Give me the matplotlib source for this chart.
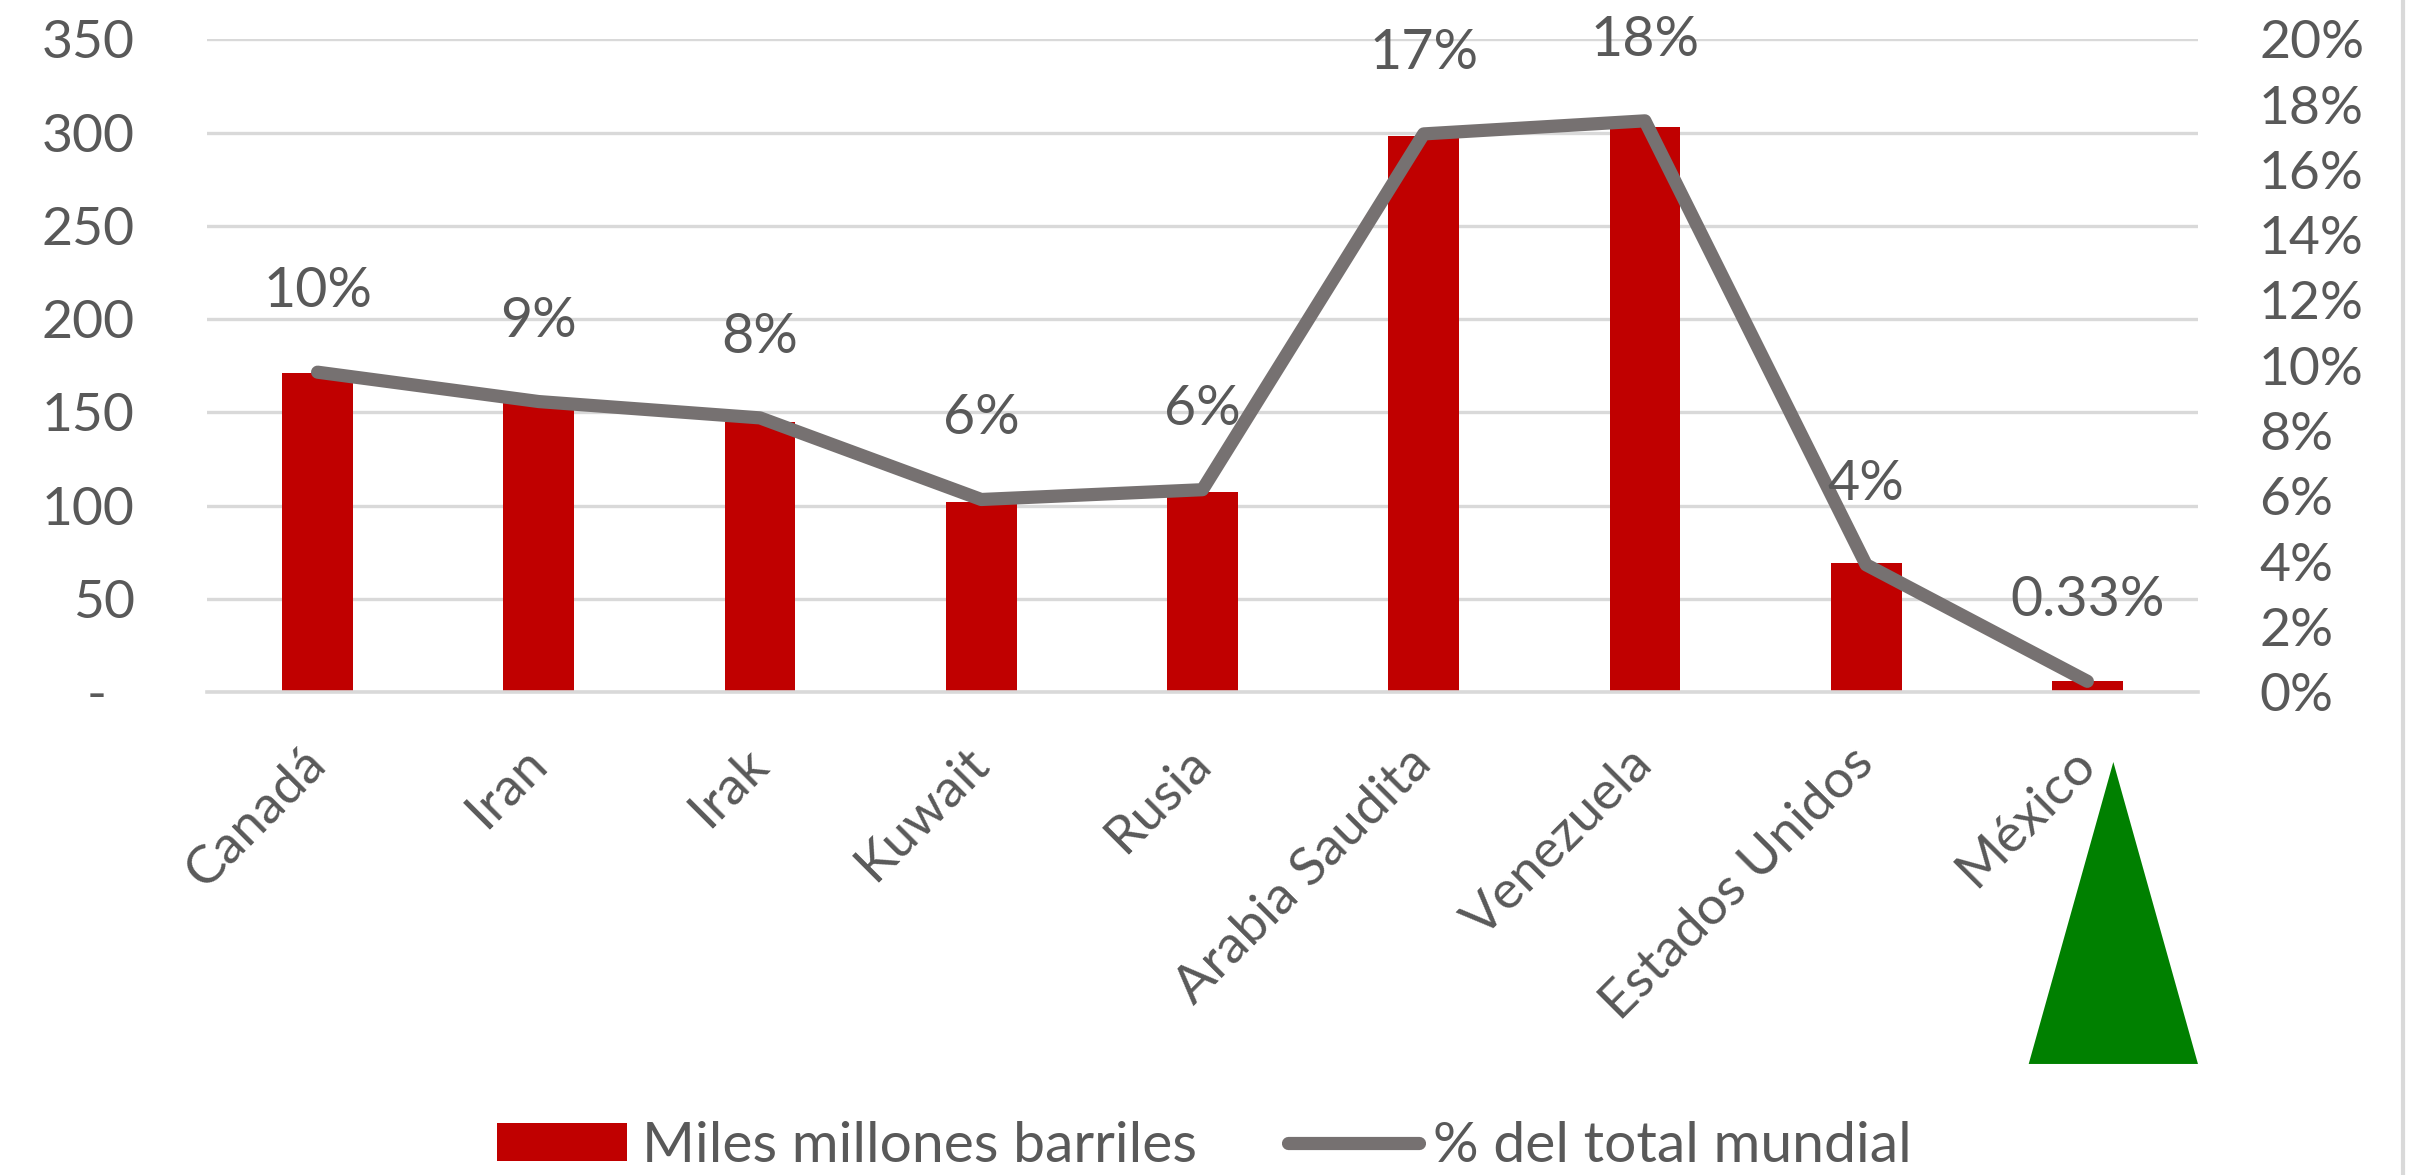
import matplotlib
matplotlib.use("Agg")
import matplotlib.pyplot as plt
from matplotlib.patches import Polygon
from matplotlib.lines import Line2D
from matplotlib.ticker import FuncFormatter, MultipleLocator
import numpy as np

# ---- data ----
countries = ["Canadá", "Iran", "Irak", "Kuwait", "Rusia", "Arabia Saudita",
             "Venezuela", "Estados Unidos", "México"]
reserves = [171, 156, 145, 102, 107, 298, 303, 69, 6]          # miles de millones de barriles
share = [0.098, 0.089, 0.084, 0.059, 0.062, 0.171, 0.175, 0.039, 0.0033]
share_labels = ["10%", "9%", "8%", "6%", "6%", "17%", "18%", "4%", "0.33%"]
left_ticks = [0, 50, 100, 150, 200, 250, 300, 350]
bar_name = "Miles millones barriles"
line_name = "% del total mundial"

plt.rcParams['font.family'] = ['Lato', 'DejaVu Sans']
TXT = "#595959"
FS = 38.5
FS_LAB = 40
FS_LEG = 41

fig = plt.figure(figsize=(24.18, 11.75), dpi=100)
ax = fig.add_axes([0.0856, 0.411, 0.8234, 0.5556])
ax2 = ax.twinx()

x = np.arange(len(countries))
bars = ax.bar(x, reserves, width=0.32, color="#c00000", zorder=2, label=bar_name)
ax.set_xlim(-0.5, len(countries) - 0.5)
ax.set_ylim(0, 350)
ax.set_yticks(left_ticks)
ax.yaxis.set_major_formatter(FuncFormatter(lambda v, p: "-  " if v == 0 else f"{int(v)}"))
ax.grid(axis="y", color="#d9d9d9", linewidth=2.4, zorder=0)
ax.set_axisbelow(True)
for s in ["top", "right", "left"]:
    ax.spines[s].set_visible(False)
ax.spines["bottom"].set_color("#d9d9d9")
ax.spines["bottom"].set_linewidth(2.6)
ax.tick_params(axis="y", length=0, pad=52, labelsize=FS, labelcolor=TXT)
ax.tick_params(axis="x", length=0, pad=46, labelsize=FS, labelcolor=TXT)
ax.set_xticks(x)
ax.set_xticklabels(countries, rotation=45, ha="right", va="center", rotation_mode="anchor")

line, = ax2.plot(x, share, color="#767171", linewidth=9.5, solid_joinstyle="round",
                 solid_capstyle="round", zorder=3, label=line_name)
ax2.set_ylim(0, 0.20)
ax2.yaxis.set_major_locator(MultipleLocator(0.02))
ax2.yaxis.set_major_formatter(FuncFormatter(lambda v, p: f"{v*100:.0f}%"))
for s in ["top", "right", "left", "bottom"]:
    ax2.spines[s].set_visible(False)
ax2.tick_params(axis="y", length=0, pad=44, labelsize=FS, labelcolor=TXT)

for xi, yi, lab in zip(x, share, share_labels):
    ax2.annotate(lab, (xi, yi), xytext=(0, 58), textcoords="offset points",
                 ha="center", va="center", fontsize=FS_LAB, color=TXT, zorder=4)

ax.set_zorder(ax2.get_zorder() - 1)
ax.patch.set_visible(False)

leg = fig.legend([bars, line], [bar_name, line_name], loc="center",
                 bbox_to_anchor=(0.498, 0.024), ncol=2, frameon=False,
                 fontsize=FS_LEG, handlelength=2.3, handleheight=0.65,
                 handletextpad=0.25, columnspacing=1.6, labelcolor=TXT)

# green triangle marker
tri = Polygon([[0.839, 0.0945], [0.909, 0.0945], [0.874, 0.3515]], closed=True,
              transform=fig.transFigure, facecolor="#008000", edgecolor="none")
fig.patches.append(tri)

# right border line
fig.lines.append(Line2D([0.9938, 0.9938], [0, 1], transform=fig.transFigure,
                        color="#d9d9d9", linewidth=3))

fig.savefig("out.png", dpi=100)
